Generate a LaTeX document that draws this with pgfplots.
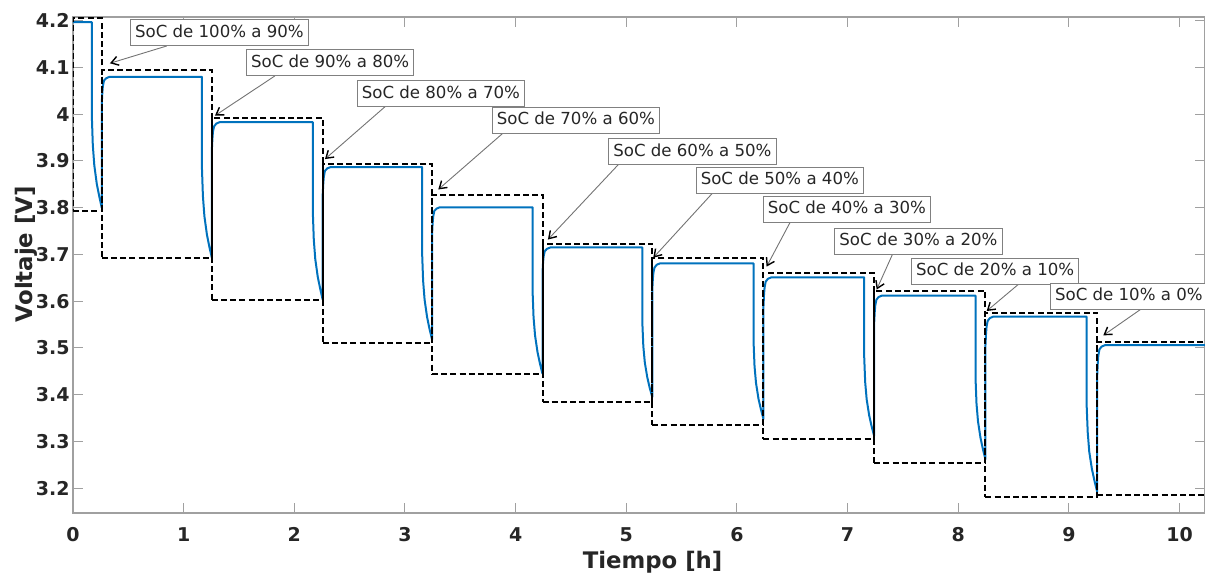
\documentclass[border=0pt]{standalone}
\usepackage{fontspec}
\setmainfont{DejaVu Sans}
\usepackage{pgfplots}
\pgfplotsset{compat=1.18}
\usetikzlibrary{arrows.meta}
\definecolor{mblue}{HTML}{0072BD}
\definecolor{txt}{HTML}{262626}
\definecolor{axgray}{HTML}{A0A0A0}
\tikzset{
  ann/.style={draw=black!50, fill=white, line width=0.5pt, font=\fontsize{8.3}{10}\selectfont, text=txt,
    inner xsep=2.3pt, inner ysep=0pt, minimum height=13pt, text height=6.3pt, text depth=1.7pt, anchor=north west},
  arr/.style={black!55, line width=0.45pt, -{Straight Barb[color=black,length=3.5pt,width=4.5pt,line width=0.7pt]}},
  rect/.style={black, line width=1pt, dash pattern=on 3pt off 1.6pt},
}
\begin{document}
\begin{tikzpicture}
\begin{axis}[
  scale only axis, width=566pt, height=248pt,
  xmin=0, xmax=10.23, ymin=3.147, ymax=4.208,
  xtick={0,1,2,3,4,5,6,7,8,9,10},
  ytick={3.2,3.3,3.4,3.5,3.6,3.7,3.8,3.9,4,4.1,4.2},
  tick align=inside,
  axis line style={axgray, line width=0.6pt},
  tick style={axgray, line width=0.5pt},
  major tick length=5pt,
  ticklabel style={font=\fontsize{9.5}{11}\selectfont\bfseries, text=txt},
  /pgf/number format/assume math mode=true,
  yticklabel style={inner sep=0pt, xshift=-1.5pt},
  xticklabel style={inner sep=0pt, yshift=-7pt},
  xlabel={Tiempo [h]}, ylabel={Voltaje [V]},
  label style={font=\fontsize{11.4}{13}\selectfont\bfseries, text=txt},
  xlabel style={at={(axis description cs:0.512,-0.1109)}, anchor=base},
  ylabel style={at={(axis description cs:-0.0354,0.522)}, anchor=base},
  clip mode=individual,
]
\addplot[mblue, line width=1pt, line join=round] coordinates {
(0,4.197) (0.17,4.197) (0.17,3.998) (0.179,3.934) (0.1925,3.891) (0.215,3.851) (0.2375,3.824) (0.26,3.800)
(0.26,4.024) (0.265,4.046) (0.27,4.060) (0.28,4.072) (0.30,4.077) (0.33,4.080) (1.165,4.080)
(1.165,3.887) (1.174,3.825) (1.1875,3.782) (1.21,3.743) (1.2325,3.716) (1.255,3.693)
(1.255,3.925) (1.26,3.948) (1.265,3.963) (1.275,3.974) (1.295,3.980) (1.325,3.983) (2.167,3.983)
(2.167,3.793) (2.176,3.732) (2.1895,3.690) (2.212,3.652) (2.2345,3.626) (2.257,3.603)
(2.257,3.830) (2.262,3.853) (2.267,3.867) (2.277,3.879) (2.297,3.884) (2.327,3.887) (3.155,3.887)
(3.155,3.703) (3.164,3.644) (3.1775,3.603) (3.20,3.566) (3.2225,3.540) (3.245,3.518)
(3.245,3.744) (3.25,3.767) (3.255,3.781) (3.265,3.793) (3.285,3.798) (3.315,3.801) (4.153,3.801)
(4.153,3.623) (4.162,3.566) (4.1755,3.527) (4.198,3.491) (4.2205,3.466) (4.243,3.445)
(4.243,3.661) (4.248,3.683) (4.253,3.696) (4.263,3.707) (4.283,3.712) (4.313,3.715) (5.145,3.715)
(5.145,3.555) (5.154,3.504) (5.1675,3.469) (5.19,3.437) (5.2125,3.414) (5.235,3.395)
(5.235,3.624) (5.24,3.647) (5.245,3.661) (5.255,3.672) (5.275,3.678) (5.305,3.681) (6.15,3.681)
(6.15,3.515) (6.159,3.461) (6.1725,3.425) (6.195,3.391) (6.2175,3.368) (6.24,3.348)
(6.24,3.590) (6.245,3.615) (6.25,3.630) (6.26,3.642) (6.28,3.648) (6.31,3.651) (7.15,3.651)
(7.15,3.482) (7.159,3.427) (7.1725,3.390) (7.195,3.356) (7.2175,3.332) (7.24,3.312)
(7.24,3.552) (7.245,3.576) (7.25,3.591) (7.26,3.603) (7.28,3.609) (7.31,3.612) (8.156,3.612)
(8.156,3.437) (8.165,3.381) (8.1785,3.343) (8.201,3.308) (8.2235,3.283) (8.246,3.262)
(8.246,3.506) (8.251,3.530) (8.256,3.546) (8.266,3.558) (8.286,3.564) (8.316,3.567) (9.16,3.567)
(9.16,3.380) (9.17,3.320) (9.184,3.278) (9.208,3.241) (9.232,3.215) (9.256,3.192)
(9.256,3.443) (9.261,3.468) (9.266,3.484) (9.276,3.497) (9.296,3.503) (9.326,3.506) (10.3,3.506)
};
\addplot[rect] coordinates {(0,3.792) (0.26,3.792) (0.26,4.205) (0,4.205) (0,3.792)};
\addplot[rect] coordinates {(0.26,3.693) (1.255,3.693) (1.255,4.094) (0.26,4.094) (0.26,3.693)};
\addplot[rect] coordinates {(1.255,3.602) (2.257,3.602) (2.257,3.992) (1.255,3.992) (1.255,3.602)};
\addplot[rect] coordinates {(2.257,3.511) (3.245,3.511) (3.245,3.894) (2.257,3.894) (2.257,3.511)};
\addplot[rect] coordinates {(3.245,3.444) (4.243,3.444) (4.243,3.828) (3.245,3.828) (3.245,3.444)};
\addplot[rect] coordinates {(4.243,3.384) (5.235,3.384) (5.235,3.723) (4.243,3.723) (4.243,3.384)};
\addplot[rect] coordinates {(5.235,3.336) (6.24,3.336) (6.24,3.693) (5.235,3.693) (5.235,3.336)};
\addplot[rect] coordinates {(6.24,3.306) (7.24,3.306) (7.24,3.661) (6.24,3.661) (6.24,3.306)};
\addplot[rect] coordinates {(7.24,3.254) (8.246,3.254) (8.246,3.622) (7.24,3.622) (7.24,3.254)};
\addplot[rect] coordinates {(8.246,3.181) (9.256,3.181) (9.256,3.575) (8.246,3.575) (8.246,3.181)};
\addplot[rect] coordinates {(9.256,3.186) (10.5,3.186) (10.5,3.513) (9.256,3.513) (9.256,3.186)};

\draw[arr] (axis cs:0.847,4.146) -- (axis cs:0.334,4.109);
\draw[arr] (axis cs:1.825,4.082) -- (axis cs:1.283,3.997);
\draw[arr] (axis cs:2.858,4.024) -- (axis cs:2.277,3.904);
\draw[arr] (axis cs:3.888,3.960) -- (axis cs:3.301,3.839);
\draw[arr] (axis cs:4.943,3.896) -- (axis cs:4.292,3.732);
\draw[arr] (axis cs:5.786,3.833) -- (axis cs:5.244,3.693);
\draw[arr] (axis cs:6.479,3.768) -- (axis cs:6.268,3.674);
\draw[arr] (axis cs:7.407,3.701) -- (axis cs:7.263,3.625);
\draw[arr] (axis cs:8.603,3.648) -- (axis cs:8.257,3.579);
\draw[arr] (axis cs:9.657,3.584) -- (axis cs:9.311,3.527);

\node[ann] at (axis cs:0.515,4.203) {SoC de 100\% a 90\%};
\node[ann] at (axis cs:1.563,4.139) {SoC de 90\% a 80\%};
\node[ann] at (axis cs:2.564,4.073) {SoC de 80\% a 70\%};
\node[ann] at (axis cs:3.784,4.016) {SoC de 70\% a 60\%};
\node[ann] at (axis cs:4.837,3.949) {SoC de 60\% a 50\%};
\node[ann] at (axis cs:5.627,3.888) {SoC de 50\% a 40\%};
\node[ann] at (axis cs:6.233,3.826) {SoC de 40\% a 30\%};
\node[ann] at (axis cs:6.880,3.757) {SoC de 30\% a 20\%};
\node[ann] at (axis cs:7.573,3.693) {SoC de 20\% a 10\%};
\node[ann] at (axis cs:8.829,3.640) {SoC de 10\% a 0\%};

\coordinate (bl) at (rel axis cs:0,0);
\coordinate (tr) at (rel axis cs:1,1);
\end{axis}
\pgfresetboundingbox
\path[use as bounding box] ([xshift=-36.5pt,yshift=-30.5pt]bl) rectangle ([yshift=8.5pt]tr);
\end{tikzpicture}
\end{document}
